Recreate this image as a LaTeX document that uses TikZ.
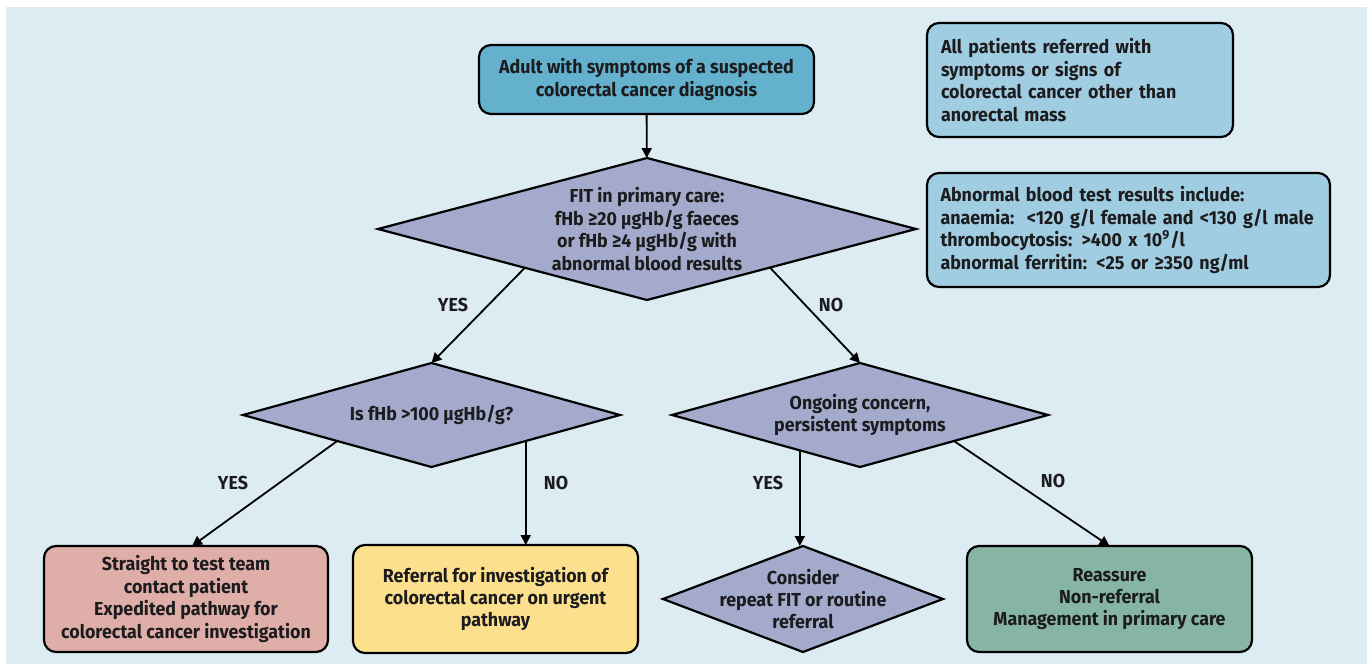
\documentclass[tikz,border=0pt]{standalone}
\usepackage{fontspec}
\setmainfont{Fira Sans}[FakeStretch=0.95]
\usetikzlibrary{calc}
\usetikzlibrary{shapes.geometric, arrows.meta, positioning}

\definecolor{bgblue}{HTML}{DDEBF3}
\definecolor{startblue}{HTML}{63B1CD}
\definecolor{noteblue}{HTML}{A0CDE1}
\definecolor{decgrey}{HTML}{A3AACB}
\definecolor{urgred}{HTML}{E0AEA8}
\definecolor{refyellow}{HTML}{FDE08E}
\definecolor{reassgreen}{HTML}{86B6A3}
\definecolor{inkdark}{HTML}{1C1C1E}

\tikzset{
  chartfont/.style={font=\fontsize{9.4}{11.2}\selectfont\bfseries, text=inkdark},
  box/.style={chartfont, draw=black, line width=1.1pt, rounded corners=6pt,
    align=center, inner sep=0pt, outer sep=0pt},
  notebox/.style={box, fill=noteblue, align=left, inner xsep=7pt},
  decision/.style={chartfont, diamond, draw=black, line width=1.1pt,
    fill=decgrey, align=center, inner sep=0pt, outer sep=0pt},
  flow/.style={-{Triangle[length=5pt,width=5pt]}, line width=0.9pt},
  answer/.style={chartfont}
}

\begin{document}
\begin{tikzpicture}[x=0.5pt, y=-0.5pt]

% Page and background
\useasboundingbox (0,0) rectangle (1367,664);
\fill[bgblue] (6,7) rectangle (1367,664);

% Start box
\node[box, fill=startblue, minimum width=167.5pt, minimum height=34.5pt]
  (adult) at (646.5,79.5) {Adult with symptoms of a suspected\\colorectal cancer diagnosis};

% Side notes
\node[notebox, text width=139pt, minimum height=57pt] (allpat) at (1080,80)
  {All patients referred with\\symptoms or signs of\\colorectal cancer other than\\anorectal mass};
\node[notebox, text width=188pt, inner xsep=6.75pt, minimum height=57pt] (abn) at (1128.5,230)
  {Abnormal blood test results include:\\
   anaemia:\ \ <120 g/l female and <130 g/l male\\
   thrombocytosis: >400 x 10\textsuperscript{9}/l\\
   abnormal ferritin: <25 or ≥350 ng/ml};

% First decision
\node[decision, aspect=3.79, inner xsep=-10pt, minimum width=269pt, minimum height=71pt]
  (fit) at (647,229) {FIT in primary care:\\fHb ≥20 µgHb/g faeces\\or fHb ≥4 µgHb/g with\\abnormal blood results};

% Second row of decisions
\node[decision, aspect=3.6, minimum width=188.5pt, minimum height=52pt]
  (isf) at (431.5,415) {Is fHb >100 µgHb/g?};
\node[decision, aspect=3.6, minimum width=188pt, minimum height=52pt]
  (ong) at (860,415) {Ongoing concern,\\persistent symptoms};

% Outcomes
\node[box, fill=urgred, minimum width=142pt, minimum height=53pt] (red) at (186,599)
  {Straight to test team\\contact patient\\Expedited pathway for\\colorectal cancer investigation};
\node[box, fill=refyellow, minimum width=142.5pt, minimum height=54pt] (yel) at (495.5,599)
  {Referral for investigation of\\colorectal cancer on urgent\\pathway};
\node[decision, aspect=2.64, inner xsep=-22pt, minimum width=140pt, minimum height=53pt]
  (con) at (803,599) {Consider\\repeat FIT or routine\\referral};
\node[box, fill=reassgreen, minimum width=142.5pt, minimum height=53pt] (grn) at (1109.5,599)
  {Reassure\\Non-referral\\Management in primary care};

% Start points on the diamond edges
\coordinate (fitl) at ($(fit.west)!0.546!(fit.south)$);
\coordinate (fitr) at ($(fit.south)!0.457!(fit.east)$);
\coordinate (isfl) at ($(isf.west)!0.5!(isf.south)$);
\coordinate (isfr) at ($(isf.south)!0.5!(isf.east)$);
\coordinate (ongl) at ($(ong.west)!0.68!(ong.south)$);
\coordinate (ongr) at ($(ong.south)!0.5!(ong.east)$);

% Connectors
\draw[flow] (adult) -- (fit);
\draw[flow] (fitl) -- (isf.north);
\draw[flow] (fitr) -- (ong.north);
\draw[flow] (isfl) -- ($(red.north)+(6,0)$);
\draw[flow] (isfr) -- (isfr |- yel.north);
\draw[flow] (ongl) -- (ongl |- con.north);
\draw[flow] (ongr) -- (grn.north);

% Answer labels
\node[answer] (yes1) at (453,305) {YES};
\node[answer] (no1) at (831,305) {NO};
\node[answer] (yes2) at (233,483) {YES};
\node[answer] (no2) at (556,483) {NO};
\node[answer] (yes3) at (768,483) {YES};
\node[answer] (no3) at (1053,481) {NO};

\end{tikzpicture}
\end{document}
